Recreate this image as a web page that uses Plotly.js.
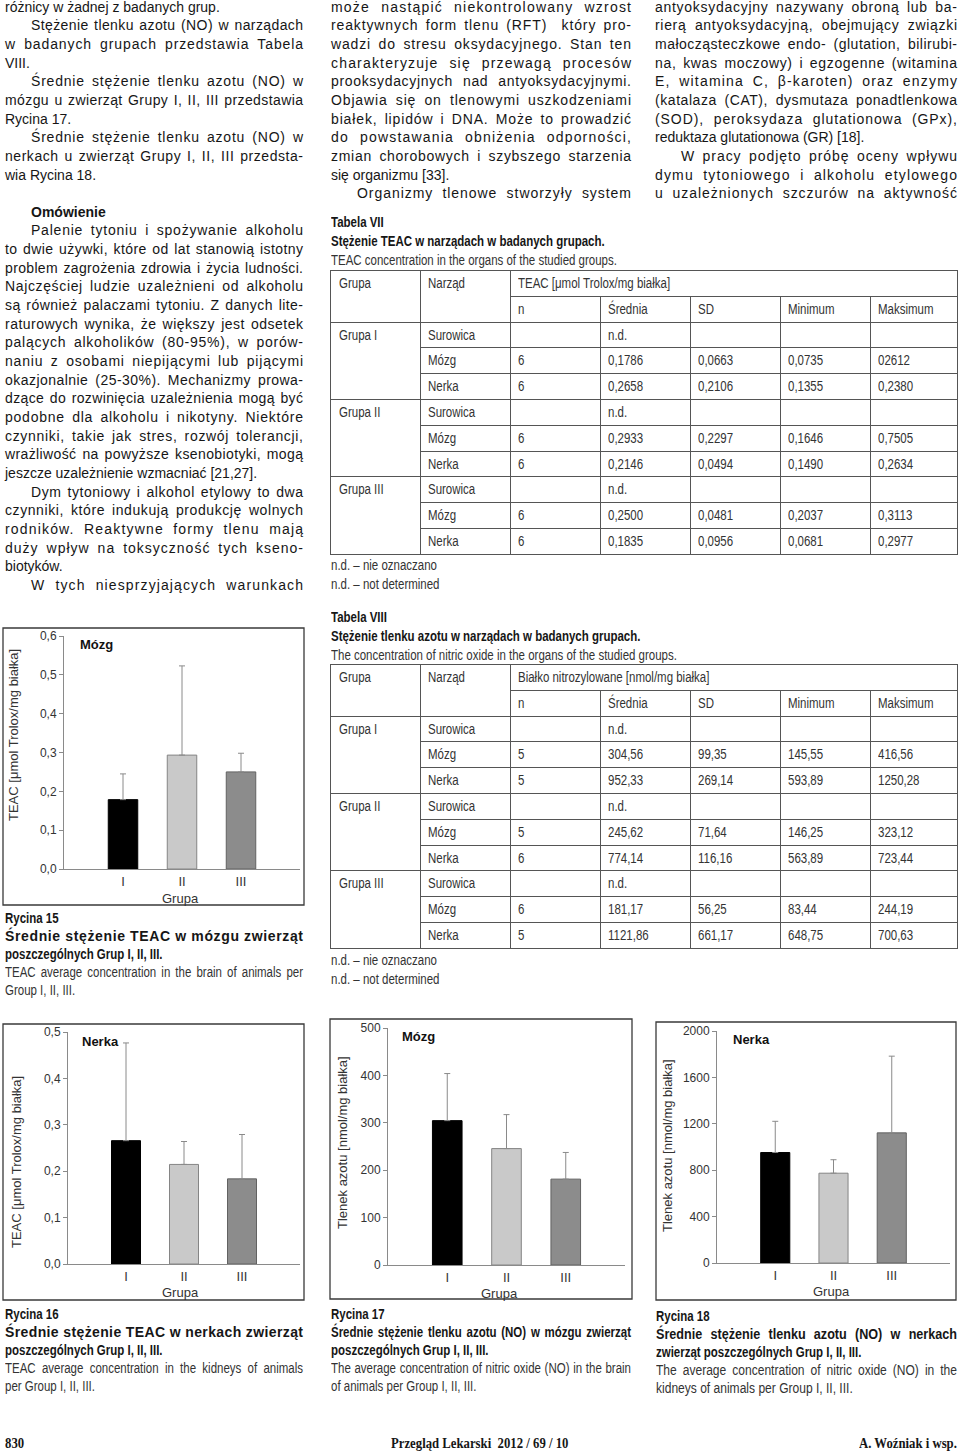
<!DOCTYPE html>
<html><head><meta charset="utf-8">
<script src="https://cdn.plot.ly/plotly-3.0.1.min.js"></script>
<style>
html,body{margin:0;padding:0;background:#fff;}
body{width:960px;height:1454px;position:relative;overflow:hidden;font-family:"Liberation Sans",Arial,sans-serif;color:#161616;}
#plot{position:absolute;left:0;top:0;width:960px;height:1454px;}
#txt{position:absolute;left:0;top:0;width:960px;height:1454px;pointer-events:none;}
.ln{position:absolute;white-space:pre;font-size:14px;line-height:18.65px;height:18.65px;}
.ln span{display:inline-block;transform-origin:0 50%;white-space:pre;}
.b{font-weight:bold;}
.rl{position:absolute;background:#555;}
</style></head><body>
<div id="plot"></div>
<div id="txt"></div>
<script>
// ---------- chart data ----------
const groups = ['I', 'II', 'III'];
const teacBrainMean  = [0.1786, 0.2933, 0.2500];
const teacBrainSD    = [0.0663, 0.2297, 0.0481];
const teacKidneyMean = [0.2658, 0.2146, 0.1835];
const teacKidneySD   = [0.2106, 0.0494, 0.0956];
const noBrainMean    = [304.56, 245.62, 181.17];
const noBrainSD      = [99.35, 71.64, 56.25];
const noKidneyMean   = [952.33, 774.14, 1121.86];
const noKidneySD     = [269.14, 116.16, 661.17];
const barFill = ['#000000', '#c9c9c9', '#8c8c8c'];
const barEdge = ['#000000', '#858585', '#626262'];
const teacTitle = 'TEAC [μmol Trolox/mg białka]';
const noTitle = 'Tlenek azotu [nmol/mg białka]';

// ---------- table data ----------
const tabSubHeads = ['n', 'Średnia', 'SD', 'Minimum', 'Maksimum'];
const tab7Rows = [
 ['Grupa I','Surowica','','n.d.','','',''],
 ['','Mózg','6','0,1786','0,0663','0,0735','02612'],
 ['','Nerka','6','0,2658','0,2106','0,1355','0,2380'],
 ['Grupa II','Surowica','','n.d.','','',''],
 ['','Mózg','6','0,2933','0,2297','0,1646','0,7505'],
 ['','Nerka','6','0,2146','0,0494','0,1490','0,2634'],
 ['Grupa III','Surowica','','n.d.','','',''],
 ['','Mózg','6','0,2500','0,0481','0,2037','0,3113'],
 ['','Nerka','6','0,1835','0,0956','0,0681','0,2977']
];
const tab8Rows = [
 ['Grupa I','Surowica','','n.d.','','',''],
 ['','Mózg','5','304,56','99,35','145,55','416,56'],
 ['','Nerka','5','952,33','269,14','593,89','1250,28'],
 ['Grupa II','Surowica','','n.d.','','',''],
 ['','Mózg','5','245,62','71,64','146,25','323,12'],
 ['','Nerka','6','774,14','116,16','563,89','723,44'],
 ['Grupa III','Surowica','','n.d.','','',''],
 ['','Mózg','6','181,17','56,25','83,44','244,19'],
 ['','Nerka','5','1121,86','661,17','648,75','700,63']
];

// ---------- body text ----------
const col1 = [
['różnicy w żadnej z badanych grup.','L'],
['Stężenie tlenku azotu (NO) w narządach','IJ'],
['w badanych grupach przedstawia Tabela','J'],
['VIII.','L'],
['Średnie stężenie tlenku azotu (NO) w','IJ'],
['mózgu u zwierząt Grupy I, II, III przedstawia','J'],
['Rycina 17.','L'],
['Średnie stężenie tlenku azotu (NO) w','IJ'],
['nerkach u zwierząt Grupy I, II, III przedsta-','J'],
['wia Rycina 18.','L'],
['',''],
['Omówienie','IB'],
['Palenie tytoniu i spożywanie alkoholu','IJ'],
['to dwie używki, które od lat stanowią istotny','J'],
['problem zagrożenia zdrowia i życia ludności.','J'],
['Najczęściej ludzie uzależnieni od alkoholu','J'],
['są również palaczami tytoniu. Z danych lite-','J'],
['raturowych wynika, że większy jest odsetek','J'],
['palących alkoholików (80-95%), w porów-','J'],
['naniu z osobami niepijącymi lub pijącymi','J'],
['okazjonalnie (25-30%). Mechanizmy prowa-','J'],
['dzące do rozwinięcia uzależnienia mogą być','J'],
['podobne dla alkoholu i nikotyny. Niektóre','J'],
['czynniki, takie jak stres, rozwój tolerancji,','J'],
['wrażliwość na powyższe ksenobiotyki, mogą','J'],
['jeszcze uzależnienie wzmacniać [21,27].','L'],
['Dym tytoniowy i alkohol etylowy to dwa','IJ'],
['czynniki, które indukują produkcję wolnych','J'],
['rodników. Reaktywne formy tlenu mają','J'],
['duży wpływ na toksyczność tych kseno-','J'],
['biotyków.','L'],
['W tych niesprzyjających warunkach','IJ']
];
const col2 = [
['może nastąpić niekontrolowany wzrost','J'],
['reaktywnych form tlenu (RFT)  który pro-','J'],
['wadzi do stresu oksydacyjnego. Stan ten','J'],
['charakteryzuje się przewagą procesów','J'],
['prooksydacyjnych nad antyoksydacyjnymi.','J'],
['Objawia się on tlenowymi uszkodzeniami','J'],
['białek, lipidów i DNA. Może to prowadzić','J'],
['do powstawania obniżenia odporności,','J'],
['zmian chorobowych i szybszego starzenia','J'],
['się organizmu [33].','L'],
['Organizmy tlenowe stworzyły system','IJ']
];
const col3 = [
['antyoksydacyjny nazywany obroną lub ba-','J'],
['rierą antyoksydacyjną, obejmujący związki','J'],
['małocząsteczkowe endo- (glutation, bilirubi-','J'],
['na, kwas moczowy) i egzogenne (witamina','J'],
['E, witamina C, β-karoten) oraz enzymy','J'],
['(katalaza (CAT), dysmutaza ponadtlenkowa','J'],
['(SOD), peroksydaza glutationowa (GPx),','J'],
['reduktaza glutationowa (GR) [18].','L'],
['W pracy podjęto próbę oceny wpływu','IJ'],
['dymu tytoniowego i alkoholu etylowego','J'],
['u uzależnionych szczurów na aktywność','J']
];

const txt = document.getElementById('txt');
const LH = 18.65;

function addLine(x, y, w, text, o) {
  o = o || {};
  const d = document.createElement('div');
  d.className = 'ln' + (o.bold ? ' b' : '');
  if (o.size) d.style.fontSize = o.size + 'px';
  if (o.font) d.style.fontFamily = o.font;
  if (o.color) d.style.color = o.color;
  const ind = o.indent ? 26 : 0;
  d.style.top = (y - LH / 2) + 'px';
  const s = document.createElement('span');
  s.textContent = text;
  d.appendChild(s);
  txt.appendChild(d);
  const T = w - ind;
  let sc = o.narrow ? (o.narrow === true ? 0.82 : o.narrow) : 1;
  const nat = s.getBoundingClientRect().width;
  if (o.just) {
    if (nat * sc < T) {
      const E = T / sc - nat;
      const gaps = text.length - 1;
      const n = (text.match(/ /g) || []).length;
      if (o.just === 'ls' || !n) {
        s.style.letterSpacing = (E / gaps) + 'px';
      } else if (o.just === 'mix') {
        const ls = Math.min(E * 0.7 / gaps, 1.6);
        s.style.letterSpacing = ls + 'px';
        s.style.wordSpacing = ((E - ls * gaps) / n) + 'px';
      } else {
        s.style.wordSpacing = (E / n) + 'px';
      }
    } else sc = T / nat;
  }
  if (sc !== 1) s.style.transform = 'scaleX(' + sc + ')';
  let left = x + ind;
  if (o.align === 'center') left = x - nat * sc / 2;
  if (o.align === 'right') left = x - nat * sc;
  d.style.left = left + 'px';
}

function addColumn(lines, x, w) {
  lines.forEach((l, i) => {
    if (!l[0]) return;
    const y = 7 + i * LH;
    const t = l[1];
    addLine(x, y, w, l[0], {
      indent: t.indexOf('I') === 0,
      just: t.indexOf('J') >= 0 ? 'mix' : null,
      bold: t.indexOf('B') >= 0
    });
  });
}
addColumn(col1, 5, 298);
addColumn(col2, 331, 300);
addColumn(col3, 655, 302);

// ---------- tables ----------
function rule(x1, y1, x2, y2) {
  const d = document.createElement('div');
  d.className = 'rl';
  d.style.left = x1 + 'px';
  d.style.top = y1 + 'px';
  d.style.width = Math.max(1, x2 - x1) + 'px';
  d.style.height = Math.max(1, y2 - y1) + 'px';
  txt.appendChild(d);
}
const tabCols = [330, 420, 510, 600, 690, 780, 870, 957];
function drawTable(top, head, rows) {
  const rh = 25.8;
  const nR = rows.length + 2;
  const bot = top + nR * rh;
  const L = tabCols[0], R = tabCols[7];
  rule(L, top, R + 1, top + 1);
  rule(L, bot, R + 1, bot + 1);
  rule(L, top, L + 1, bot + 1);
  rule(R, top, R + 1, bot + 1);
  rule(tabCols[1], top, tabCols[1] + 1, bot);
  rule(tabCols[2], top, tabCols[2] + 1, bot);
  for (let c = 3; c < 7; c++) rule(tabCols[c], top + rh, tabCols[c] + 1, bot);
  rule(tabCols[2], top + rh, R, top + rh + 1);
  rule(L, top + 2 * rh, R, top + 2 * rh + 1);
  for (let r = 0; r < rows.length; r++) {
    const yy = top + (r + 2) * rh;
    if (r > 0) {
      if (rows[r][0]) rule(L, yy, R, yy + 1);
      else rule(tabCols[1], yy, R, yy + 1);
    }
  }
  const tc = '#333';
  const cy = k => top + k * rh + rh / 2 + 0.5;
  addLine(tabCols[0] + 9, cy(0), 80, 'Grupa', {narrow: true, color: tc});
  addLine(tabCols[1] + 8, cy(0), 80, 'Narząd', {narrow: true, color: tc});
  addLine(tabCols[2] + 8, cy(0), 400, head, {narrow: true, color: tc});
  tabSubHeads.forEach((h, i) => addLine(tabCols[2 + i] + 8, cy(1), 80, h, {narrow: true, color: tc}));
  rows.forEach((row, r) => {
    row.forEach((v, c) => {
      if (v) addLine(tabCols[c] + (c === 0 ? 9 : 8), cy(r + 2), 80, v, {narrow: true, color: tc});
    });
  });
}

addLine(331, 222, 300, 'Tabela VII', {bold: true, narrow: true});
addLine(331, 241, 300, 'Stężenie TEAC w narządach w badanych grupach.', {bold: true, narrow: true});
addLine(331, 260, 304, 'TEAC concentration in the organs of the studied groups.', {narrow: true, color: '#333'});
drawTable(270, 'TEAC [μmol Trolox/mg białka]', tab7Rows);
addLine(331, 565, 200, 'n.d. – nie oznaczano', {narrow: true, color: '#333'});
addLine(331, 584, 200, 'n.d. – not determined', {narrow: true, color: '#333'});

addLine(331, 617, 300, 'Tabela VIII', {bold: true, narrow: true});
addLine(331, 636, 330, 'Stężenie tlenku azotu w narządach w badanych grupach.', {bold: true, narrow: true});
addLine(331, 655, 380, 'The concentration of nitric oxide in the organs of the studied groups.', {narrow: true, color: '#333'});
drawTable(664, 'Białko nitrozylowane [nmol/mg białka]', tab8Rows);
addLine(331, 960, 200, 'n.d. – nie oznaczano', {narrow: true, color: '#333'});
addLine(331, 979, 200, 'n.d. – not determined', {narrow: true, color: '#333'});

// ---------- figure captions ----------
function caption(x, y0, w, lines) {
  lines.forEach((l, i) => addLine(x, y0 + i * 18, w, l[0], l[1]));
}
caption(5, 918, 298, [
  ['Rycina 15', {bold: true, narrow: true}],
  ['Średnie stężenie TEAC w mózgu zwierząt', {bold: true, just: 'ls'}],
  ['poszczególnych Grup I, II, III.', {bold: true, narrow: true}],
  ['TEAC average concentration in the brain of animals per', {narrow: true, just: 'ws', color: '#333'}],
  ['Group I, II, III.', {narrow: true, color: '#333'}]
]);
caption(5, 1314, 298, [
  ['Rycina 16', {bold: true, narrow: true}],
  ['Średnie stężenie TEAC w nerkach zwierząt', {bold: true, just: 'ls'}],
  ['poszczególnych Grup I, II, III.', {bold: true, narrow: true}],
  ['TEAC average concentration in the kidneys of animals', {narrow: true, just: 'ws', color: '#333'}],
  ['per Group I, II, III.', {narrow: true, color: '#333'}]
]);
caption(331, 1314, 300, [
  ['Rycina 17', {bold: true, narrow: true}],
  ['Średnie stężenie tlenku azotu (NO) w mózgu zwierząt', {bold: true, narrow: true, just: 'ws'}],
  ['poszczególnych Grup I, II, III.', {bold: true, narrow: true}],
  ['The average concentration of nitric oxide (NO) in the brain', {narrow: true, just: 'ws', color: '#333'}],
  ['of animals per Group I, II, III.', {narrow: true, color: '#333'}]
]);
caption(656, 1316, 301, [
  ['Rycina 18', {bold: true, narrow: true}],
  ['Średnie stężenie tlenku azotu (NO) w nerkach', {bold: true, narrow: 0.9, just: 'ws'}],
  ['zwierząt poszczególnych Grup I, II, III.', {bold: true, narrow: true}],
  ['The average concentration of nitric oxide (NO) in the', {narrow: 0.86, just: 'ws', color: '#333'}],
  ['kidneys of animals per Group I, II, III.', {narrow: 0.86, color: '#333'}]
]);

// ---------- footer ----------
const serif = '"Liberation Serif","Times New Roman",serif';
addLine(5, 1443, 100, '830', {bold: true, font: serif, size: 15, narrow: 0.85});
addLine(480, 1443, 300, 'Przegląd Lekarski  2012 / 69 / 10', {bold: true, font: serif, size: 15, narrow: 0.85, align: 'center'});
addLine(957, 1443, 300, 'A. Woźniak i wsp.', {bold: true, font: serif, size: 15, narrow: 0.85, align: 'right'});

// ---------- charts ----------
const W = 960, H = 1454;
const fx = p => p / W;
const fy = p => 1 - p / H;
const FONT = '"Liberation Sans", Arial, sans-serif';
const AX = '#8a8a8a';

const panels = [
  {mean: teacBrainMean, sd: teacBrainSD, x: [64, 300], y: [636, 869], range: [0, 0.6], dtick: 0.1, fmt: '.1f',
   label: 'Mózg', labelPos: [78, 644], ytitle: teacTitle, ytPos: [14, 735], grupaPos: [180, 898], box: [3, 628, 304, 905]},
  {mean: teacKidneyMean, sd: teacKidneySD, x: [68, 300], y: [1032, 1264], range: [0, 0.5], dtick: 0.1, fmt: '.1f',
   label: 'Nerka', labelPos: [80, 1041], ytitle: teacTitle, ytPos: [16, 1162], grupaPos: [180, 1292], box: [3, 1024, 304, 1300]},
  {mean: noBrainMean, sd: noBrainSD, x: [388, 625], y: [1028, 1265], range: [0, 500], dtick: 100, fmt: '',
   label: 'Mózg', labelPos: [400, 1036], ytitle: noTitle, ytPos: [342, 1143], grupaPos: [499, 1293], box: [330, 1019, 632, 1299]},
  {mean: noKidneyMean, sd: noKidneySD, x: [717, 950], y: [1031, 1263], range: [0, 2000], dtick: 400, fmt: '',
   label: 'Nerka', labelPos: [731, 1039], ytitle: noTitle, ytPos: [667, 1146], grupaPos: [831, 1291], box: [656, 1022, 956, 1300]}
];

const traces = [];
const layout = {
  width: W, height: H, margin: {l: 0, r: 0, t: 0, b: 0},
  paper_bgcolor: 'rgba(0,0,0,0)', plot_bgcolor: 'rgba(0,0,0,0)',
  showlegend: false, separators: ', ', font: {family: FONT, color: '#333'},
  annotations: [], shapes: []
};
panels.forEach((p, i) => {
  const sfx = i ? String(i + 1) : '';
  traces.push({
    type: 'bar', x: groups, y: p.mean, width: 0.5,
    xaxis: 'x' + sfx, yaxis: 'y' + sfx, hoverinfo: 'skip',
    marker: {color: barFill, line: {color: barEdge, width: 1}},
    error_y: {type: 'data', symmetric: false, array: p.sd, arrayminus: [0, 0, 0], color: AX, thickness: 1, width: 3}
  });
  layout['xaxis' + sfx] = {
    domain: [fx(p.x[0]), fx(p.x[1])], anchor: 'y' + sfx, type: 'category', range: [-1, 3],
    showline: true, linecolor: AX, linewidth: 1, ticks: '', showgrid: false, zeroline: false,
    tickfont: {size: 13, color: '#333', family: FONT}, fixedrange: true
  };
  layout['yaxis' + sfx] = {
    domain: [fy(p.y[1]), fy(p.y[0])], anchor: 'x' + sfx, range: p.range, tick0: 0, dtick: p.dtick,
    tickformat: p.fmt, ticks: 'outside', ticklen: 4, tickcolor: AX, showline: true, linecolor: AX, linewidth: 1,
    showgrid: false, zeroline: false, tickfont: {size: 12, color: '#333', family: FONT}, fixedrange: true
  };
  layout.shapes.push({type: 'rect', xref: 'paper', yref: 'paper',
    x0: fx(p.box[0]), x1: fx(p.box[2]), y0: fy(p.box[3]), y1: fy(p.box[1]),
    line: {color: '#3a3a3a', width: 1.3}, fillcolor: 'rgba(0,0,0,0)'});
  layout.annotations.push({xref: 'paper', yref: 'paper', x: fx(p.labelPos[0]), y: fy(p.labelPos[1]),
    xanchor: 'left', yanchor: 'middle', showarrow: false, text: '<b>' + p.label + '</b>',
    font: {size: 13, color: '#111', family: FONT}});
  layout.annotations.push({xref: 'paper', yref: 'paper', x: fx(p.ytPos[0]), y: fy(p.ytPos[1]),
    xanchor: 'center', yanchor: 'middle', showarrow: false, text: p.ytitle, textangle: -90,
    font: {size: 13, color: '#333', family: FONT}});
  layout.annotations.push({xref: 'paper', yref: 'paper', x: fx(p.grupaPos[0]), y: fy(p.grupaPos[1]),
    xanchor: 'center', yanchor: 'middle', showarrow: false, text: 'Grupa',
    font: {size: 13, color: '#333', family: FONT}});
});

Plotly.newPlot('plot', traces, layout, {staticPlot: true, displayModeBar: false});
</script>
</body></html>
